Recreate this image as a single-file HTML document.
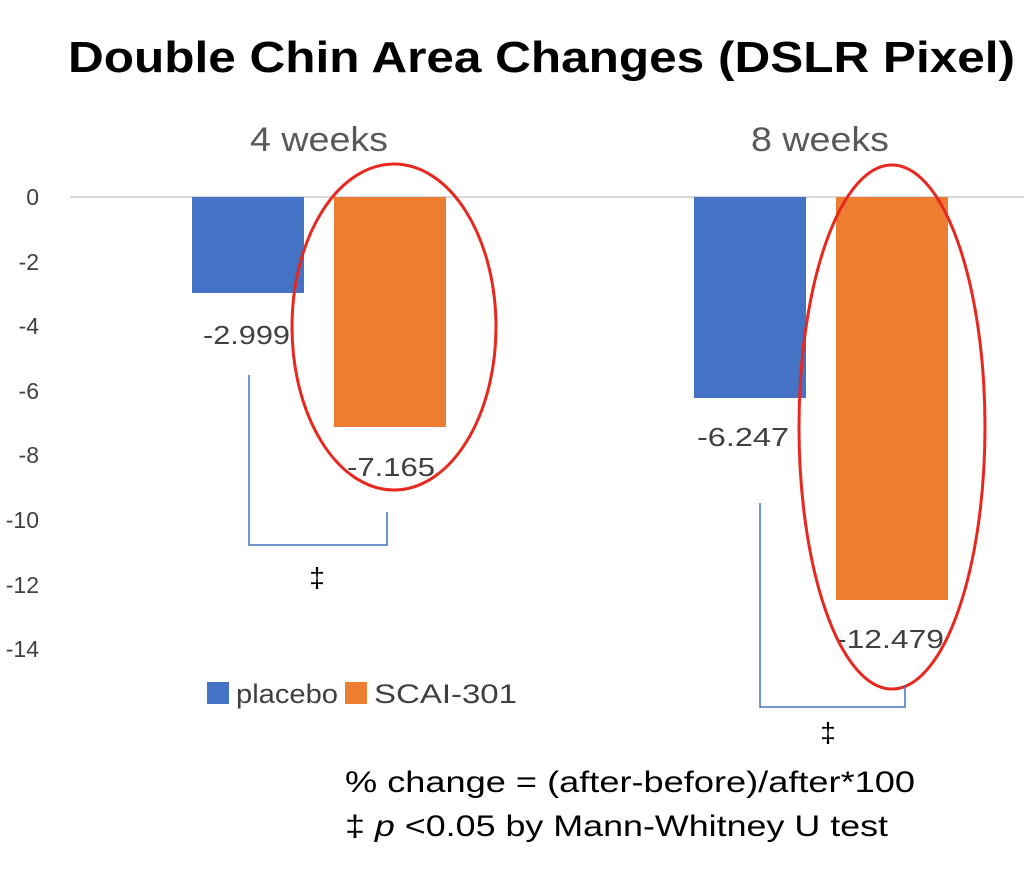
<!DOCTYPE html>
<html><head><meta charset="utf-8"><style>
html,body{margin:0;padding:0;background:#fff;width:1024px;height:889px;overflow:hidden}
svg{display:block}
text{font-family:"Liberation Sans","DejaVu Sans",sans-serif}
</style></head><body>
<svg width="1024" height="889" viewBox="0 0 1024 889">
<text x="68" y="72" font-size="44" font-weight="bold" fill="#000" textLength="947" lengthAdjust="spacingAndGlyphs">Double Chin Area Changes (DSLR Pixel)</text>
<text x="250" y="151" font-size="34" fill="#595959" textLength="138" lengthAdjust="spacingAndGlyphs">4 weeks</text>
<text x="751" y="151" font-size="34" fill="#595959" textLength="138" lengthAdjust="spacingAndGlyphs">8 weeks</text>
<g font-size="23" fill="#404040" text-anchor="end">
<text x="39" y="205">0</text>
<text x="39" y="270">-2</text>
<text x="39" y="334">-4</text>
<text x="39" y="399">-6</text>
<text x="39" y="463">-8</text>
<text x="39" y="528">-10</text>
<text x="39" y="593">-12</text>
<text x="39" y="657">-14</text>
</g>
<line x1="70" y1="197" x2="1024" y2="197" stroke="#d9d9d9" stroke-width="2"/>
<rect x="192" y="197" width="112" height="96" fill="#4472C4"/>
<rect x="334" y="197" width="112" height="230" fill="#ED7D31"/>
<rect x="694" y="197" width="112" height="201" fill="#4472C4"/>
<rect x="836" y="197" width="112" height="403" fill="#ED7D31"/>
<g font-size="26" fill="#404040">
<text x="203" y="344" textLength="87" lengthAdjust="spacingAndGlyphs">-2.999</text>
<text x="347" y="476" textLength="88" lengthAdjust="spacingAndGlyphs">-7.165</text>
<text x="697" y="446" textLength="92" lengthAdjust="spacingAndGlyphs">-6.247</text>
<text x="836" y="648" textLength="108" lengthAdjust="spacingAndGlyphs">-12.479</text>
</g>
<ellipse cx="394" cy="327" rx="102" ry="163" fill="none" stroke="#e8281e" stroke-width="3"/>
<ellipse cx="892" cy="427" rx="93" ry="262" fill="none" stroke="#e8281e" stroke-width="3"/>
<g stroke="#4472C4" stroke-width="1.5" fill="none">
<polyline points="249,375 249,545 387,545 387,512"/>
<polyline points="760,503 760,707 905,707 905,685"/>
</g>
<g font-size="28" fill="#000" text-anchor="middle">
<text x="317" y="587">‡</text>
<text x="828" y="742">‡</text>
</g>
<rect x="207" y="682" width="22" height="22" fill="#4472C4"/>
<text x="236" y="703" font-size="27" fill="#404040" textLength="102" lengthAdjust="spacingAndGlyphs">placebo</text>
<rect x="345" y="682" width="22" height="22" fill="#ED7D31"/>
<text x="374" y="703" font-size="27" fill="#404040" textLength="143" lengthAdjust="spacingAndGlyphs">SCAI-301</text>
<text x="345" y="792" font-size="30" fill="#000" textLength="570" lengthAdjust="spacingAndGlyphs">% change = (after-before)/after*100</text>
<text x="345" y="836" font-size="30" fill="#000" textLength="543" lengthAdjust="spacingAndGlyphs">‡ <tspan font-style="italic">p</tspan> &lt;0.05 by Mann-Whitney U test</text>
</svg>
</body></html>
